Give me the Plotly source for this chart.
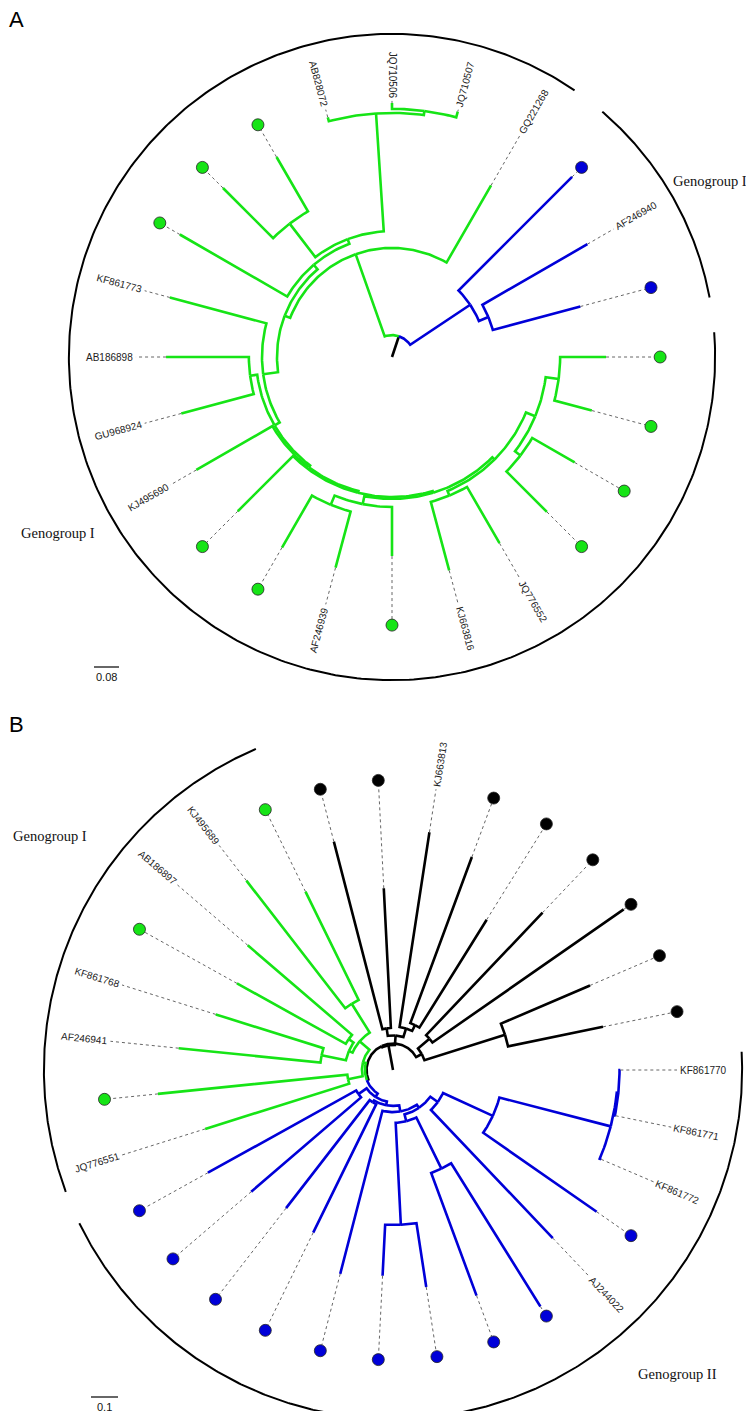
import numpy as np
import plotly.graph_objects as go

W, H = 754, 1411
COL = {'g': '#16e416', 'b': '#0000d8', 'k': '#000000'}

# ---------------- tree A (leaves counter-clockwise, first leaf at 15 deg) ----------------
A_names = ['', 'AF246940', '', 'GQ221268', 'JQ710507', 'JQ710506', 'AB828072',
           '', '', '', 'KF861773', 'AB186898', 'GU968924', 'KJ495690',
           '', '', 'AF246939', '', 'KJ663816', 'JQ776552', '', '', '', '']
A_group = list('bbb' + 'g' * 21)
A_tip = [0.624, 0.722, 0.815, 0.634, 0.813, 0.813, 0.794, 0.739, 0.765, 0.784,
         0.736, 0.723, 0.698, 0.723, 0.698, 0.704, 0.698, 0.637, 0.707, 0.688,
         0.701, 0.675, 0.662, 0.685]
A_nodes = ['root', 'B1', 'B2', 'G1', 'G2', 'N2', 'N1', 'T', 'T2', 'P', 'G3', 'G4', 'AG',
           'G5', 'G6', 'G7', 'Q2', 'Q1', 'RR', 'R1', 'R5', 'R2', 'R3']
A_kids = [['G1', 'B1'], ['B2', 2], [0, 1], [3, 'G2'], ['N2', 'G3'], ['N1', 9], ['T', 'P'],
          ['T2', 6], [4, 5], [7, 8], [10, 'G4'], ['AG', 'G5'], [11, 12], [13, 'G6'],
          [14, 'G7'], ['Q2', 'RR'], ['Q1', 17], [15, 16], ['R1', 'R5'], [18, 19],
          ['R2', 'R3'], [20, 21], [22, 23]]
A_depth = [0.070, 0.301, 0.334, 0.349, 0.368, 0.387, 0.403, 0.781, 0.794, 0.538, 0.416,
           0.435, 0.458, 0.442, 0.448, 0.454, 0.480, 0.512, 0.464, 0.480, 0.496, 0.518, 0.538]
A_clades = [('I', 3, 23), ('II', 0, 2)]

# ---------------- tree B (leaves counter-clockwise, first leaf at 360/31 deg) ----------------
B_names = ['', '', '', '', '', '', 'KJ663813', '', '', '', 'KJ495689', 'AB186897', '',
           'KF861768', 'AF246941', '', 'JQ776551', '', '', '', '', '', '', '', '', '',
           'AJ244022', '', 'KF861772', 'KF861771', 'KF861770']
B_group = list('k' * 9 + 'g' * 8 + 'b' * 14)
B_tip = [0.794, 0.794, 1.041, 0.804, 0.656, 0.841, 0.891, 0.674, 0.874,
         0.736, 0.887, 0.709, 0.661, 0.688, 0.798, 0.875, 0.729,
         0.784, 0.692, 0.647, 0.671, 0.780, 0.763, 0.813, 0.891, 1.032, 0.859,
         0.919, 0.839, 0.842, 0.842]
B_nodes = ['root', 'BKa', 'BK1', 'BK2', 'BK3', 'Y', 'BKb', 'BK4', 'BK6', 'GB', 'GR', 'GR6',
           'GR1', 'GR5', 'GR2', 'GR3', 'GR4', 'BL', 'BL1', 'BL13', 'BL2', 'BL12', 'BL11',
           'BL5', 'BL3', 'BL4', 'BL10', 'BL9', 'BL7', 'BL8']
B_kids = [['BKa', 'Y'], ['BK1', 'BK2'], [7, 8], [6, 'BK3'], [4, 5], ['BKb', 'GB'],
          ['BK6', 'BK4'], [2, 3], [0, 1], ['GR', 'BL'], ['GR6', 'GR4'], ['GR1', 'GR5'],
          [9, 10], ['GR2', 'GR3'], [11, 12], [13, 14], [15, 16], ['BL1', 'BL13'], [17, 18],
          ['BL2', 'BL12'], [19, 20], [21, 'BL11'], ['BL5', 'BL10'], ['BL3', 'BL4'], [22, 23],
          [24, 25], [26, 'BL9'], [27, 'BL7'], [28, 'BL8'], [29, 30]]
B_depth = [0.093, 0.128, 0.156, 0.161, 0.185, 0.098, 0.122, 0.178, 0.435, 0.104, 0.115,
           0.163, 0.289, 0.178, 0.200, 0.270, 0.170, 0.119, 0.156, 0.133, 0.141, 0.156,
           0.170, 0.196, 0.574, 0.407, 0.204, 0.407, 0.833, 0.839]
B_clades = [('I', 9, 16), ('II', 17, 30)]

# panel geometry (pixels) and style
PANELS = {
    'A': dict(cx=384, cy=349, s=312.5, top=0, bottom=705, xa='x', ya='y',
              label_r=0.829, dot_r=0.858, arc_r=1.034, pad=4.4, bar=0.08,
              bar_px=(86, 659), bar_text='0.08',
              geno={'I': (50, 525), 'II': (704, 173)}, letter=('A', 11)),
    'B': dict(cx=385, cy=1062, s=270.0, top=705, bottom=1411, xa='x2', ya='y2',
              label_r=1.063, dot_r=1.074, arc_r=1.293, pad=3.0, bar=0.1,
              bar_px=(83, 1389), bar_text='0.1',
              geno={'I': (42, 828), 'II': (669, 1366)}, letter=('B', 716)),
}

CHAR_W = {'A': .667, 'B': .667, 'F': .611, 'G': .778, 'J': .5, 'K': .667, 'Q': .778, 'U': .722}
LABEL_FONT = 10
DOT_PX = 12


def text_w(t):
    return sum(CHAR_W.get(ch, .556) for ch in t) * LABEL_FONT


def pol(r, a):
    t = np.radians(a)
    return np.asarray(r) * np.cos(t), np.asarray(r) * np.sin(t)


def build(names, groups, tips, nodes, kids):
    n = len(names)
    step = 360.0 / n
    ang = {i: step * (i + 1) for i in range(n)}
    col = {i: groups[i] for i in range(n)}
    kid = dict(zip(nodes, kids))

    def visit(k):
        if isinstance(k, int):
            return
        for c in kid[k]:
            visit(c)
        a = [ang[c] for c in kid[k]]
        ang[k] = (min(a) + max(a)) / 2
        cs = {col[c] for c in kid[k]}
        col[k] = cs.pop() if len(cs) == 1 else 'k'

    visit(nodes[0])
    return ang, col, kid


fig = go.Figure()
annotations = []
layout_axes = {}

trees = [('A', A_names, A_group, A_tip, A_nodes, A_kids, A_depth, A_clades),
         ('B', B_names, B_group, B_tip, B_nodes, B_kids, B_depth, B_clades)]

for key, names, groups, tips, nodes, kids, depths, clades in trees:
    p = PANELS[key]
    s = p['s']
    ang, col, kid = build(names, groups, tips, nodes, kids)
    dep = {i: tips[i] for i in range(len(names))}
    dep.update(dict(zip(nodes, depths)))

    paths = {c: ([], []) for c in ('k', 'g', 'b')}

    def add(c, r, a):
        x, y = pol(r, a)
        paths[c][0].extend(list(x) + [None])
        paths[c][1].extend(list(y) + [None])

    root = nodes[0]
    add('k', [0, dep[root]], [ang[root]] * 2)
    for nd in nodes:
        for c in kid[nd]:
            npts = max(2, int(abs(ang[c] - ang[nd]) / 1.0) + 2)
            t = np.linspace(ang[nd], ang[c], npts)
            add(col[c], np.append(np.full(npts, dep[nd]), dep[c]), np.append(t, ang[c]))

    for c in ('k', 'g', 'b'):
        fig.add_trace(go.Scatter(x=paths[c][0], y=paths[c][1], mode='lines',
                                 line=dict(color=COL[c], width=2.6),
                                 xaxis=p['xa'], yaxis=p['ya'], hoverinfo='skip'))

    # dotted leaders
    lx, ly = [], []
    for i, nm in enumerate(names):
        a = ang[i]
        end = p['label_r'] - 3 / s if nm else p['dot_r'] - (DOT_PX / 2) / s
        x, y = pol([dep[i], end], [a, a])
        lx += list(x) + [None]
        ly += list(y) + [None]
    fig.add_trace(go.Scatter(x=lx, y=ly, mode='lines',
                             line=dict(color='#555555', width=0.9, dash='dot'),
                             xaxis=p['xa'], yaxis=p['ya'], hoverinfo='skip'))

    # coloured dots for unlabelled leaves
    for c in ('k', 'g', 'b'):
        idx = [i for i, nm in enumerate(names) if not nm and groups[i] == c]
        if not idx:
            continue
        x, y = pol([p['dot_r']] * len(idx), [ang[i] for i in idx])
        fig.add_trace(go.Scatter(x=x, y=y, mode='markers',
                                 marker=dict(size=DOT_PX, color=COL[c],
                                             line=dict(color='#222222', width=0.8)),
                                 xaxis=p['xa'], yaxis=p['ya'], hoverinfo='skip'))

    # leaf labels, rotated along the radius
    for i, nm in enumerate(names):
        if not nm:
            continue
        a = ang[i] % 360
        rc = p['label_r'] + text_w(nm) / 2 / s
        x, y = pol(rc, a)
        outward = a < 90 or a > 270
        annotations.append(dict(x=float(x), y=float(y), xref=p['xa'], yref=p['ya'],
                                text=nm, showarrow=False,
                                textangle=-a if outward else 180 - a,
                                xanchor='center', yanchor='middle',
                                font=dict(family='Liberation Sans, Arial, sans-serif',
                                          size=LABEL_FONT, color='#222222')))

    # genogroup brackets
    step = 360.0 / len(names)
    for gname, i0, i1 in clades:
        t = np.linspace(step * (i0 + 1) - p['pad'], step * (i1 + 1) + p['pad'], 400)
        x, y = pol(np.full(t.size, p['arc_r']), t)
        fig.add_trace(go.Scatter(x=x, y=y, mode='lines', line=dict(color='black', width=2),
                                 xaxis=p['xa'], yaxis=p['ya'], hoverinfo='skip'))
        gx, gy = p['geno'][gname]
        annotations.append(dict(x=gx / W, y=1 - gy / H, xref='paper', yref='paper',
                                text='Genogroup ' + gname, showarrow=False,
                                xanchor='center', yanchor='middle', borderpad=0,
                                font=dict(family='Liberation Serif, Times New Roman, serif',
                                          size=14.5, color='#111111')))

    # scale bar
    bx = (p['bar_px'][0] - p['cx']) / s
    by = (p['cy'] - p['bar_px'][1]) / s
    fig.add_trace(go.Scatter(x=[bx, bx + p['bar']], y=[by, by], mode='lines',
                             line=dict(color='black', width=1.2),
                             xaxis=p['xa'], yaxis=p['ya'], hoverinfo='skip'))
    annotations.append(dict(x=bx + p['bar'] / 2, y=by - 10 / s, xref=p['xa'], yref=p['ya'],
                            text=p['bar_text'], showarrow=False, xanchor='center',
                            yanchor='middle',
                            font=dict(family='Liberation Sans, Arial, sans-serif',
                                      size=11, color='#111111')))

    letter, ly_px = p['letter']
    annotations.append(dict(x=0.0, y=1 - ly_px / H, xref='paper', yref='paper', text=letter,
                            showarrow=False, xanchor='left', yanchor='middle', borderpad=0,
                            font=dict(family='Liberation Sans, Arial, sans-serif',
                                      size=22, color='black')))

    n = '' if key == 'A' else '2'
    layout_axes['xaxis' + n] = dict(domain=[0, 1], range=[-p['cx'] / s, (W - p['cx']) / s],
                                    visible=False, anchor='y' + n, fixedrange=True)
    layout_axes['yaxis' + n] = dict(domain=[1 - p['bottom'] / H, 1 - p['top'] / H],
                                    range=[(p['cy'] - p['bottom']) / s, (p['cy'] - p['top']) / s],
                                    visible=False, anchor='x' + n, fixedrange=True)

fig.update_layout(width=W, height=H, margin=dict(l=0, r=0, t=0, b=0),
                  paper_bgcolor='white', plot_bgcolor='white', showlegend=False,
                  annotations=annotations, **layout_axes)

fig.write_html("out.html")
